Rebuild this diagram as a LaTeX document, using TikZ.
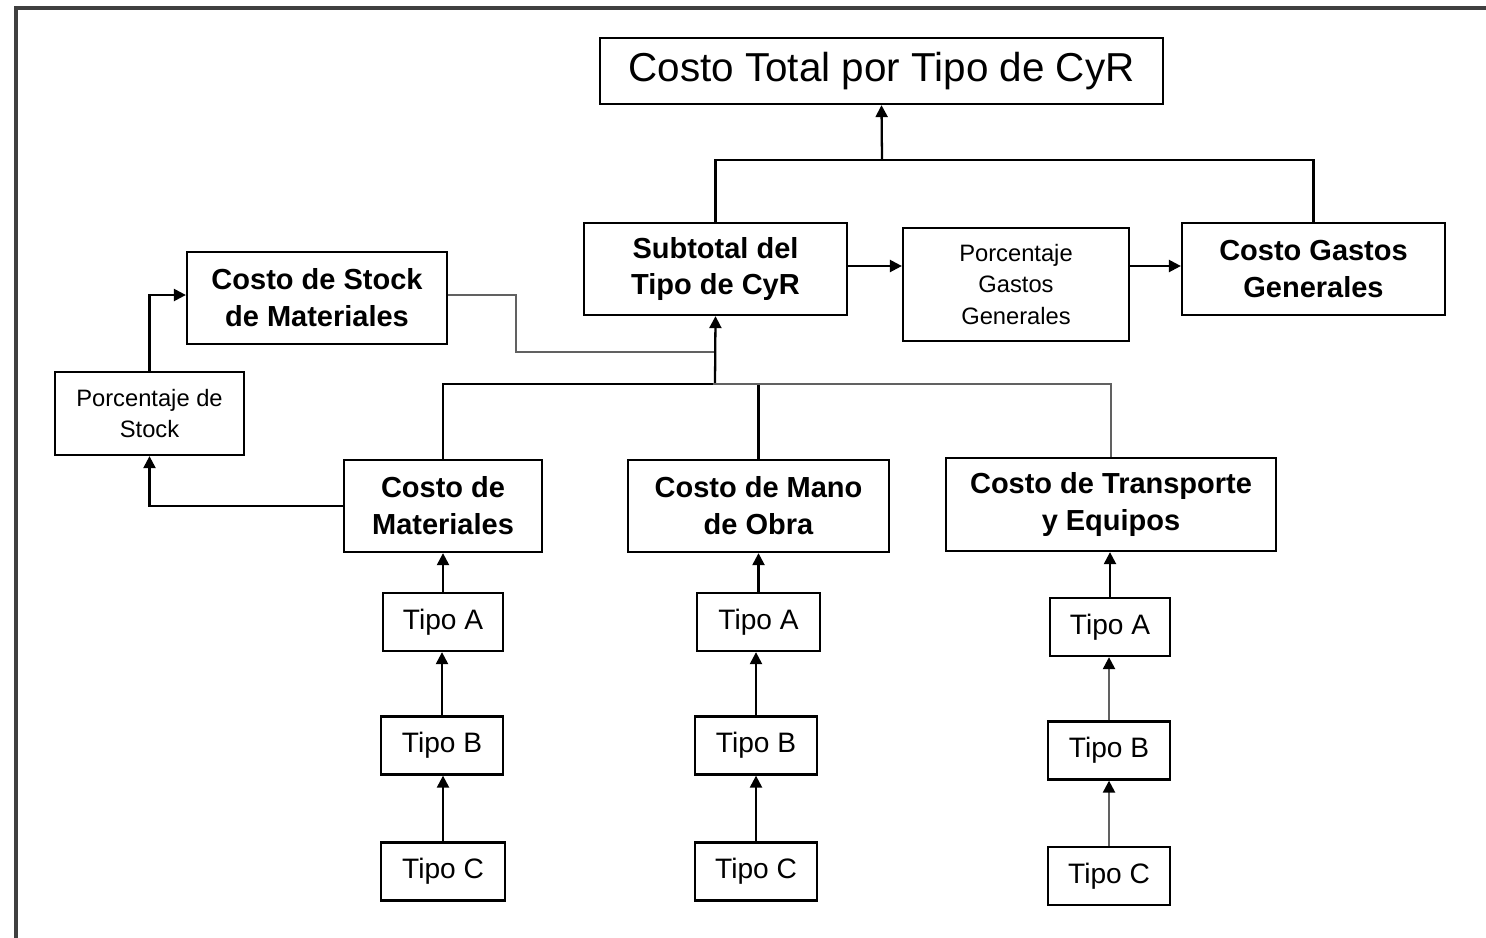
\documentclass[tikz,border=0pt]{standalone}
\usepackage{fontspec}
\setmainfont{Liberation Sans}
\usetikzlibrary{arrows.meta}
\tikzset{
  box/.style={draw=black, line width=1.3pt, align=center, inner sep=0pt, fill=white},
  bigbox/.style={box, font=\fontsize{16.5}{21}\selectfont\bfseries},
  smallbox/.style={box, font=\fontsize{13.5}{18}\selectfont},
  tipobox/.style={box, font=\fontsize{16}{19}\selectfont, minimum height=1.16cm},
  titlebox/.style={box, font=\fontsize{23}{27}\selectfont},
  conn/.style={line width=1.3pt, black},
  gconn/.style={line width=1.3pt, black!62},
  arr/.style={conn, -{Triangle[length=2.4mm,width=2.4mm]}},
  garr/.style={gconn, -{Triangle[length=2.4mm,width=2.4mm,fill=black,color=black]}},
}
\begin{document}
\begin{tikzpicture}[x=0.02cm,y=-0.02cm]
\useasboundingbox (0,0) rectangle (1486,937);
\fill[white] (0,0) rectangle (1486,937);
\draw[line width=1.8pt, black!75] (16,960) -- (16,8) -- (1520,8);

% nodes
\node[titlebox, minimum width=11.26cm, minimum height=1.32cm] (total) at (881.5,71) {Costo Total por Tipo de CyR};
\node[bigbox, minimum width=5.26cm, minimum height=1.84cm] (sub) at (715.5,269) {Subtotal del\\Tipo de CyR};
\node[smallbox, minimum width=4.52cm, minimum height=2.26cm] (pgg) at (1016,284.5) {Porcentaje\\Gastos\\Generales};
\node[bigbox, minimum width=5.26cm, minimum height=1.84cm] (cgg) at (1313.5,269) {Costo Gastos\\Generales};
\node[bigbox, minimum width=5.2cm, minimum height=1.84cm] (stock) at (317,298) {Costo de Stock\\de Materiales};
\node[smallbox, minimum width=3.78cm, minimum height=1.66cm] (pst) at (149.5,413.5) {Porcentaje de\\Stock};
\node[bigbox, minimum width=3.96cm, minimum height=1.84cm] (mat) at (443,506) {Costo de\\Materiales};
\node[bigbox, minimum width=5.22cm, minimum height=1.84cm] (mo) at (758.5,506) {Costo de Mano\\de Obra};
\node[bigbox, minimum width=6.6cm, minimum height=1.86cm] (te) at (1111,504.5) {Costo de Transporte\\y Equipos};

\node[tipobox, minimum width=2.4cm] (matA) at (443,622) {Tipo A};
\node[tipobox, minimum width=2.44cm] (matB) at (442,745.5) {Tipo B};
\node[tipobox, minimum width=2.48cm] (matC) at (443,871.5) {Tipo C};
\node[tipobox, minimum width=2.46cm] (moA) at (758.5,622) {Tipo A};
\node[tipobox, minimum width=2.44cm] (moB) at (756,745.5) {Tipo B};
\node[tipobox, minimum width=2.44cm] (moC) at (756,871.5) {Tipo C};
\node[tipobox, minimum width=2.4cm] (teA) at (1110,627) {Tipo A};
\node[tipobox, minimum width=2.44cm] (teB) at (1109,750.5) {Tipo B};
\node[tipobox, minimum width=2.44cm] (teC) at (1109,876) {Tipo C};

% coordinates
\coordinate (topbus) at (882,160);
\coordinate (bus) at (715,384);
\coordinate (sk) at (516,352);

% connectors
\draw[conn] (sub.north) |- (topbus) -| (cgg.north);
\draw[arr] (topbus) -- (total.south);
\draw[arr] ([yshift=0.06cm]sub.east) -- ([yshift=0.06cm]sub.east -| pgg.west);
\draw[arr] ([yshift=0.06cm]sub.east -| pgg.east) -- ([yshift=0.06cm]cgg.west);

\draw[gconn] ([yshift=0.06cm]stock.east) -| (sk) -- (sk -| bus);
\draw[arr] (bus) -- (sub.south);
\draw[conn] (mat.north) |- (bus);
\draw[conn] (mo.north) |- (bus);
\draw[gconn] (te.north) |- ([xshift=-0.04cm]bus);

\draw[arr] (mat.west) -| (pst.south);
\draw[arr] (pst.north) |- ([yshift=0.06cm]stock.west);

\draw[arr] (matA.north) -- (matA.north |- mat.south);
\draw[arr] (matB.north) -- (matB.north |- matA.south);
\draw[arr] (matC.north) -- (matC.north |- matB.south);
\draw[arr] (moA.north) -- (moA.north |- mo.south);
\draw[arr] (moB.north) -- (moB.north |- moA.south);
\draw[arr] (moC.north) -- (moC.north |- moB.south);
\draw[arr] (teA.north) -- (teA.north |- te.south);
\draw[garr] (teB.north) -- (teB.north |- teA.south);
\draw[garr] (teC.north) -- (teC.north |- teB.south);
\end{tikzpicture}
\end{document}
